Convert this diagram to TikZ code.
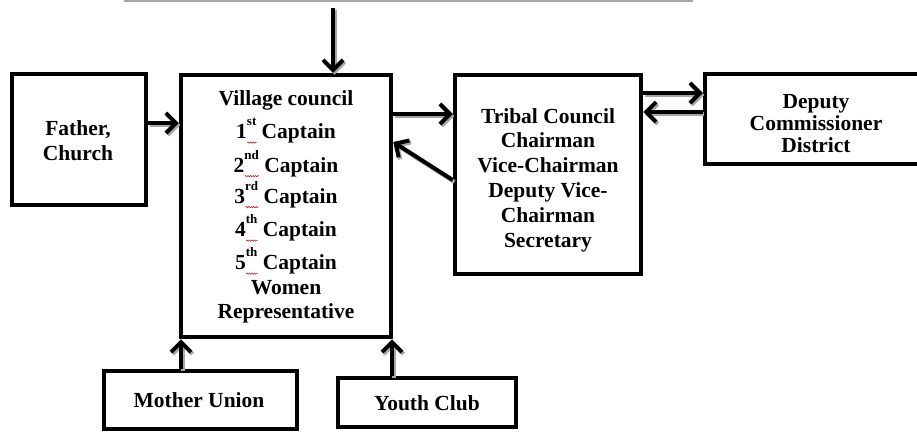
\documentclass[tikz,border=0pt]{standalone}
\usepackage{fontspec}
\setmainfont{Liberation Serif}
\usetikzlibrary{arrows.meta,decorations.pathmorphing}
\newlength\supwd
\newsavebox\supbox
\newcommand\wavyline{\tikz[x=1pt,y=1pt,baseline=0pt]\draw[red!80!black,line width=0.5pt,decorate,decoration={snake,amplitude=0.7pt,segment length=2.5pt}] (0,0) -- (\supwd,0);}
\newcommand\ordsup[1]{\sbox\supbox{\fontsize{13}{13}\selectfont\bfseries #1}\setlength\supwd{\wd\supbox}\rlap{\smash{\raisebox{-4pt}{\wavyline}}}\smash{\raisebox{13pt}{\usebox\supbox}}}
\newcommand\conn[2]{%
  \draw[arr, draw=black!35, transform canvas={shift={(1.6pt,-2pt)}}] #1 -- #2;
  \draw[arr] #1 -- #2;}
\begin{document}
\begin{tikzpicture}[x=1pt,y=-1pt,
  box/.style={draw, line width=4.5pt, inner sep=0pt, rectangle},
  txt/.style={font=\bfseries\fontsize{21.5}{24.5}\selectfont, align=center, inner sep=0pt},
  arr/.style={line width=4pt, -{Straight Barb[length=10pt,width=20pt,line width=4pt]}},
]
\clip (0,0) rectangle (917,432);
\fill[white] (0,0) rectangle (917,432);
% partial top element
\draw[black!35, line width=1.5pt] (124,1) -- (693,1);

% boxes
\node[box, minimum width=134pt, minimum height=131pt] (fc) at (79,139.5) {};
\node[box, minimum width=210pt, minimum height=262pt] (vc) at (286,206) {};
\node[box, minimum width=186pt, minimum height=199pt] (tc) at (548,174.5) {};
\node[box, minimum width=230pt, minimum height=90pt] (dc) at (820,119) {};
\node[box, minimum width=193pt, minimum height=58pt] (mu) at (200.5,400) {};
\node[box, minimum width=178pt, minimum height=49pt] (yc) at (427,402.5) {};

% texts
\node[txt, anchor=north] (fct) at (78,120.5) {Father,\\Church};
\node[txt, anchor=north] (vct) at (286,90.5) {Village council\\[8.5pt]
  1\ordsup{st} Captain\\[9pt]
  2\ordsup{nd} Captain\\[6.5pt]
  3\ordsup{rd} Captain\\[9pt]
  4\ordsup{th} Captain\\[8.5pt]
  5\ordsup{th} Captain\\
  Women\\[-0.5pt]
  Representative};
\node[txt, anchor=north, font=\bfseries\fontsize{21.5}{24.8}\selectfont] (tct) at (548,108) {Tribal Council\\Chairman\\Vice-Chairman\\Deputy Vice-\\Chairman\\Secretary};
\node[txt, anchor=north, font=\bfseries\fontsize{21.5}{22}\selectfont] (dct) at (816,94) {Deputy\\Commissioner\\District};
\node[txt, anchor=base] (mut) at (199,407) {Mother Union};
\node[txt, anchor=base] (yct) at (427,410) {Youth Club};

% helper coordinates
\coordinate (topsrc) at (333,8);
\coordinate (h1) at (0,123);
\coordinate (h2) at (0,114);
\coordinate (h3) at (0,180);
\coordinate (h4) at (0,142);
\coordinate (h5) at (0,93);
\coordinate (h6) at (0,112);
\coordinate (v1) at (181,0);
\coordinate (v2) at (392,0);

% connectors
\conn{(topsrc)}{(topsrc |- vc.north)}
\conn{(fc.east |- h1)}{(vc.west |- h1)}
\conn{(vc.east |- h2)}{(tc.west |- h2)}
\conn{(tc.west |- h3)}{(vc.east |- h4)}
\conn{(tc.east |- h5)}{(dc.west |- h5)}
\conn{(dc.west |- h6)}{(tc.east |- h6)}
\conn{(mu.north -| v1)}{(vc.south -| v1)}
\conn{(yc.north -| v2)}{(vc.south -| v2)}
\end{tikzpicture}
\end{document}
